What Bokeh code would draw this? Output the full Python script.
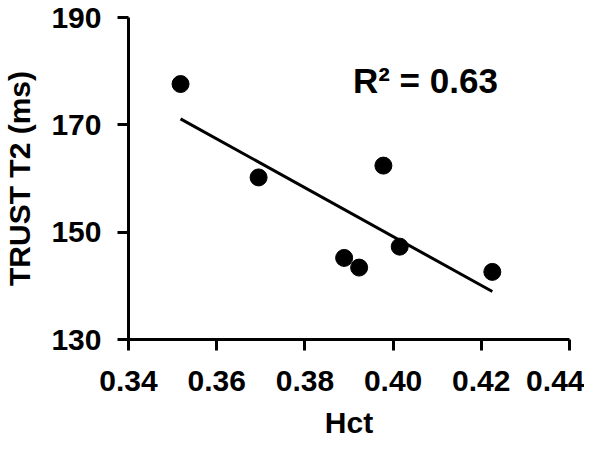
import numpy as np
from bokeh.plotting import figure
from bokeh.models import Range1d, FixedTicker, PrintfTickFormatter, Label
from bokeh.embed import file_html
from bokeh.resources import INLINE

hct = [0.3518, 0.3695, 0.3889, 0.3923, 0.3978, 0.4015, 0.4225]
t2 = [177.6, 160.2, 145.2, 143.4, 162.4, 147.3, 142.6]
x_ticks = [0.34, 0.36, 0.38, 0.40, 0.42, 0.44]
y_ticks = [130, 150, 170, 190]
r2_text = "R\u00b2 = 0.63"

FONT = "Liberation Sans"

p = figure(width=584, height=441, output_backend="svg", toolbar_location=None,
           x_range=Range1d(0.34, 0.44), y_range=Range1d(130, 190),
           min_border_left=127, min_border_right=15, min_border_top=17, min_border_bottom=8)
p.outline_line_color = None
p.grid.visible = False
p.background_fill_color = "white"
p.border_fill_color = "white"

# regression line
coef = np.polyfit(hct, t2, 1)
xs = np.array([min(hct), max(hct)])
p.line(xs, np.polyval(coef, xs), line_color="black", line_width=3)
p.scatter(hct, t2, size=17, fill_color="black", line_color="black")

for ax in (p.xaxis[0], p.yaxis[0]):
    ax.axis_line_width = 3
    ax.major_tick_line_width = 3
    ax.major_tick_out = 11
    ax.major_tick_in = 0
    ax.minor_tick_line_color = None
    ax.major_label_text_font = FONT
    ax.major_label_text_font_style = "bold"
    ax.major_label_text_font_size = "30px"
    ax.major_label_text_color = "black"
    ax.axis_label_text_font = FONT
    ax.axis_label_text_font_style = "bold"
    ax.axis_label_text_font_size = "30px"
    ax.axis_label_text_color = "black"

p.xaxis.ticker = FixedTicker(ticks=x_ticks)
p.xaxis.formatter = PrintfTickFormatter(format="%.2f")
p.xaxis.major_label_standoff = 20
p.xaxis.axis_label = "Hct"
p.xaxis.axis_label_standoff = 12

p.yaxis.ticker = FixedTicker(ticks=y_ticks)
p.yaxis.major_label_standoff = 16
p.yaxis.axis_label = "TRUST T2 (ms)"
p.yaxis.axis_label_standoff = 12

lab = Label(x=0.3909, y=178.3, text=r2_text, text_font=FONT, text_font_style="bold",
            text_font_size="35px", text_color="black", text_baseline="alphabetic")
p.add_layout(lab)

open("out.html", "w").write(file_html(p, INLINE))
